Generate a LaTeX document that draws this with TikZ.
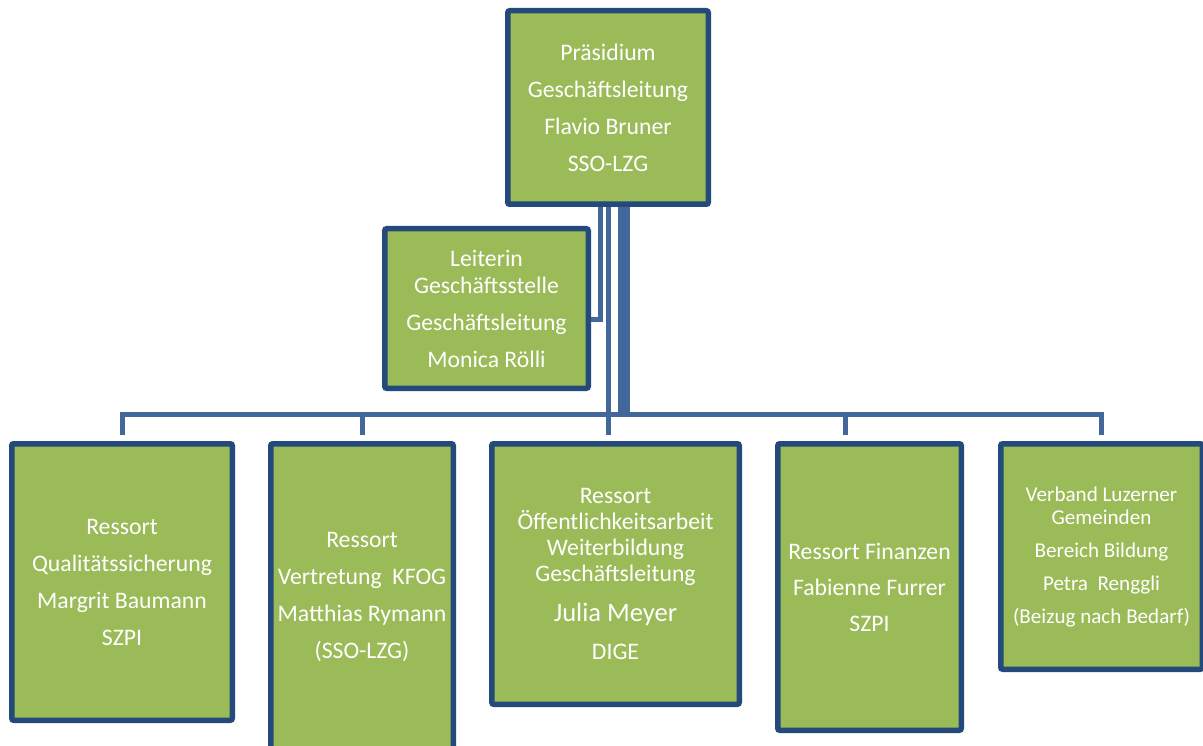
\documentclass[tikz,border=0pt]{standalone}
\usepackage{fontspec}
\setmainfont{Carlito}
\usetikzlibrary{calc}
\definecolor{boxfill}{HTML}{9BBB59}
\definecolor{boxline}{HTML}{24497B}
\definecolor{connline}{HTML}{41679B}
\begin{document}
\begin{tikzpicture}[x=1pt,y=-1pt,
  orgbox/.style={draw=boxline, fill=boxfill, line width=5.5pt, rounded corners=2pt,
    inner sep=0pt, outer sep=2.75pt, text=white, align=center,
    font={\fontsize{23.7}{37}\selectfont}},
  conn/.style={draw=connline, line width=5pt},
  thickconn/.style={draw=connline, line width=12pt}]
\useasboundingbox (0,0) rectangle (1203,746);
\fill[white] (0,0) rectangle (1203,746);

\node[orgbox, minimum width=200.5, minimum height=193.5] (pres) at (608,107.5)
  {Präsidium\\Geschäftsleitung\\Flavio Bruner\\SSO-LZG};
\node[orgbox, minimum width=203.5, minimum height=159.5] (lead) at (486.5,308.5)
  {Leiterin\\[-10pt]Geschäftsstelle\\Geschäftsleitung\\Monica Rölli};

\node[orgbox, minimum width=220.5, minimum height=276.5] (b1) at (122,582)
  {Ressort\\Qualitätssicherung\\Margrit Baumann\\SZPI};
\node[orgbox, minimum width=182.5, minimum height=306.5] (b2) at (362,597)
  {Ressort\\Vertretung\ \ KFOG\\Matthias Rymann\\(SSO-LZG)};
\node[orgbox, minimum width=247.5, minimum height=260.5,
  font={\fontsize{23.7}{26}\selectfont}] (b3) at (615.5,574)
  {Ressort\\Öffentlichkeitsarbeit\\Weiterbildung\\Geschäftsleitung\\[14pt]{\fontsize{26.6}{26}\selectfont Julia Meyer}\\[12pt]DIGE};
\node[orgbox, minimum width=183.5, minimum height=286.5,
  font={\fontsize{23.7}{36}\selectfont}] (b4) at (869.5,587)
  {Ressort Finanzen\\Fabienne Furrer\\SZPI};
\node[orgbox, minimum width=201.5, minimum height=225.5,
  font={\fontsize{21.1}{33}\selectfont}] (b5) at (1101.5,556.5)
  {Verband Luzerner\\[-10pt]Gemeinden\\Bereich Bildung\\Petra\ \ Renggli\\(Beizug nach Bedarf)};

\coordinate (busY) at (0,414);
\coordinate (d4) at (845.5,435);

\draw[conn] ($(b1.north)+(0,-6)$) |- (b5.north |- busY) -- ($(b5.north)+(0,-6)$);
\draw[conn] ($(b2.north)+(0,-6)$) -- (b2.north |- busY);
\draw[conn] (d4) -- (d4 |- busY);
\draw[conn] (pres.south) -- ($(b3.north -| pres.south)+(0,-6)$);
\draw[thickconn] ($(pres.south)+(16,0)$) -- ($(pres.south |- busY)+(16,0)$);
\draw[conn] ($(pres.south)+(-7.5,0)$) |- ($(lead.east)+(0,11.5)$);
\end{tikzpicture}
\end{document}
